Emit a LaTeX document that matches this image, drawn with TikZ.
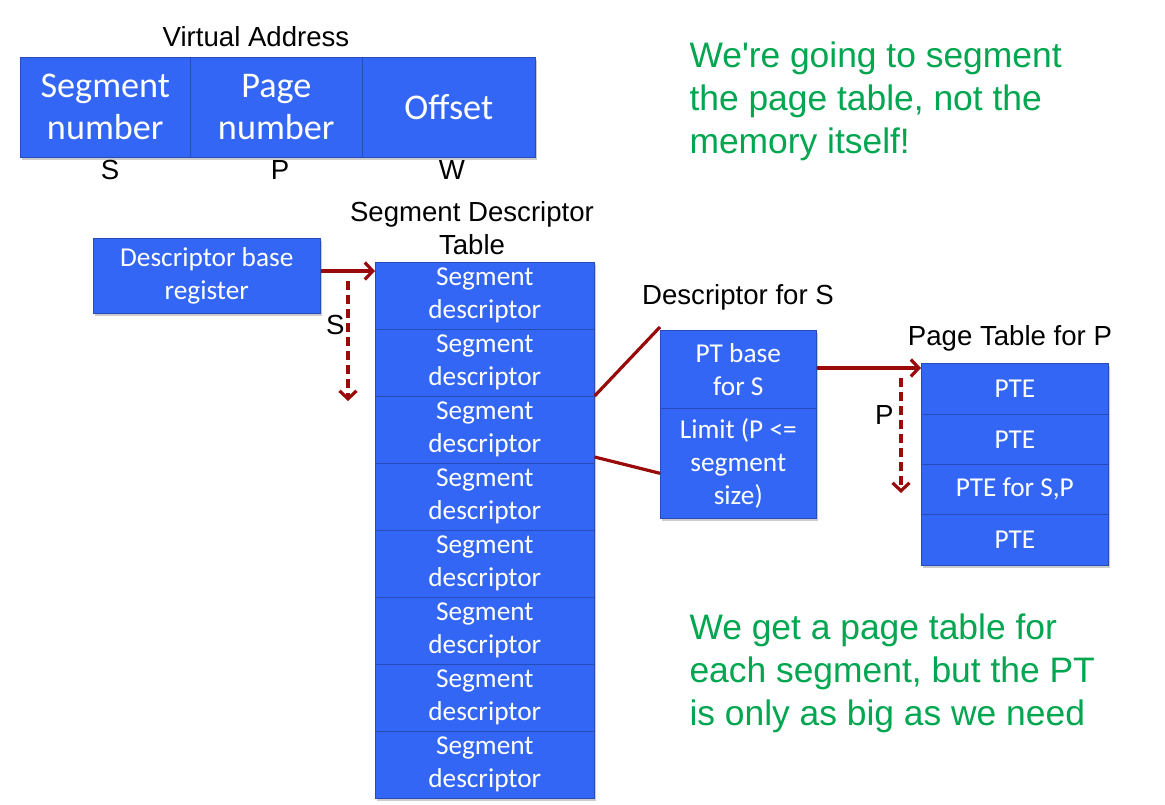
\documentclass[tikz,border=0pt]{standalone}
\usepackage{fontspec}
\setmainfont{Liberation Sans}[Ligatures=TeXOff]
\newfontfamily\boxfont{Carlito}
\usetikzlibrary{arrows.meta,positioning,shadows}
\definecolor{cellblue}{HTML}{3366F5}
\definecolor{linkred}{HTML}{990A0A}
\definecolor{notegreen}{HTML}{00A650}

\begin{document}
\begin{tikzpicture}[x=1pt, y=-1pt,
  cell/.style={fill=cellblue, draw=cellblue!75!black, line width=0.6pt,
               inner sep=0pt, text=white, align=center, anchor=north west,
               drop shadow={shadow xshift=2pt, shadow yshift=-3pt, opacity=0.4}},
  bigtext/.style={font=\boxfont\fontsize{36.2}{42}\selectfont},
  smalltext/.style={font=\boxfont\fontsize{27.3}{33}\selectfont},
  label/.style={font=\fontsize{27.6}{33}\selectfont, align=center},
  note/.style={font=\fontsize{35.4}{43}\selectfont, text=notegreen, align=left, anchor=north west},
  link/.style={linkred, line width=3.2pt, -{Straight Barb[length=8pt, width=17pt]}},
  walk/.style={link, dash pattern=on 9pt off 5pt},
  tie/.style={linkred, line width=3.2pt},
]
  \fill[white] (0,0) rectangle (1165,805);
  \useasboundingbox (0,0) rectangle (1165,805);

  % virtual address
  \node[label] (va-title) at (256,37) {Virtual Address};
  \node[cell, bigtext, minimum width=170pt, minimum height=100pt] (seg-no) at (20,57) {Segment\\number};
  \node[cell, bigtext, minimum width=172pt, minimum height=100pt] (page-no) at (190,57) {Page\\number};
  \node[cell, bigtext, minimum width=173pt, minimum height=100pt] (offset) at (362,57) {Offset};
  \node[label] (s-field) at (110,170) {S};
  \node[label] (p-field) at (280,170) {P};
  \node[label] (w-field) at (452,170) {W};

  % descriptor base register and table
  \node[cell, smalltext, minimum width=227pt, minimum height=75pt] (dbr) at (93,238) {Descriptor base\\register};
  \node[label] (sdt-title) at (472,228) {Segment Descriptor\\Table};
  \foreach \i in {1,...,8}
    \node[cell, smalltext, minimum width=219pt, minimum height=67pt] (sd\i) at (375,{262+67*(\i-1)}) {Segment\\descriptor};

  \draw[link] (dbr.east |- 0,271) -- (sd1.west |- 0,271);
  \coordinate (s-top) at (348,281);
  \coordinate (s-end) at (348,401);
  \draw[walk] (s-top) -- (s-end);
  \node[label, left=0pt of s-top, yshift=-44pt] (s-step) {S};

  % descriptor for S
  \node[label] (desc-title) at (738,297) {Descriptor for S};
  \node[cell, smalltext, minimum width=156pt, minimum height=78pt] (pt-base) at (660,330) {PT base\\for S};
  \node[cell, smalltext, minimum width=156pt, minimum height=110pt] (limit) at (660,408) {Limit (P <=\\segment\\size)};
  \draw[tie] (sd3.north east) -- ([yshift=3pt]pt-base.north west);
  \draw[tie] ([yshift=6pt]sd4.north east) -- ([yshift=-10pt]limit.west);

  % page table for P
  \node[label] (pt-title) at (1010,338) {Page Table for P};
  \node[cell, smalltext, minimum width=187pt, minimum height=51pt] (pte1) at (921,363) {PTE};
  \node[cell, smalltext, minimum width=187pt, minimum height=50pt] (pte2) at (921,414) {PTE};
  \node[cell, smalltext, minimum width=187pt, minimum height=50pt] (pte3) at (921,464) {PTE for S,P};
  \node[cell, smalltext, minimum width=187pt, minimum height=51pt] (pte4) at (921,514) {PTE};

  \draw[link] (pt-base.east |- 0,368) -- (pte1.west |- 0,368);
  \coordinate (p-top) at (901,378);
  \coordinate (p-end) at (901,493);
  \draw[walk] (p-top) -- (p-end);
  \node[label, left=4pt of p-top, yshift=-37pt] (p-step) {P};

  % notes
  \node[note] (note-top) at (686,38) {We're going to segment\\the page table, not the\\memory itself!};
  \node[note] (note-bot) at (686,610) {We get a page table for\\each segment, but the PT\\is only as big as we need};
\end{tikzpicture}
\end{document}
